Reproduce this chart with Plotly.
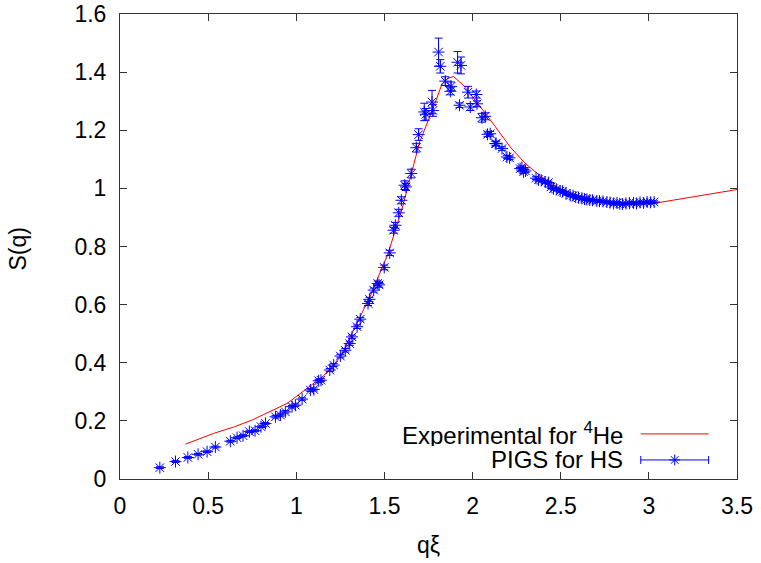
import plotly.graph_objects as go

# Experimental S(q) for 4He (red line)
exp_q = [0.371, 0.45, 0.532, 0.65, 0.75, 0.815, 0.948, 1.061, 1.155, 1.25, 1.344, 1.42,
         1.496, 1.515, 1.6, 1.647, 1.70, 1.779, 1.827, 1.855, 1.892, 1.949, 2.0, 2.082,
         2.214, 2.30, 2.40, 2.5, 2.6, 2.7, 2.8, 2.9, 3.0, 3.054, 3.5]
exp_s = [0.120, 0.138, 0.157, 0.180, 0.203, 0.222, 0.260, 0.312, 0.355, 0.420, 0.535, 0.630,
         0.741, 0.765, 0.93, 1.039, 1.16, 1.280, 1.360, 1.377, 1.385, 1.354, 1.315, 1.251,
         1.142, 1.085, 1.035, 0.998, 0.974, 0.960, 0.951, 0.947, 0.948, 0.951, 0.996]

# PIGS for hard spheres (blue points with error bars)
pigs_q = [0.226, 0.315, 0.385, 0.443, 0.494, 0.541, 0.626, 0.664, 0.698, 0.734, 0.766, 0.800,
          0.825, 0.882, 0.910, 0.938, 0.976, 0.995, 1.033, 1.080, 1.099, 1.127, 1.140, 1.190,
          1.212, 1.250, 1.278, 1.303, 1.316, 1.345, 1.363, 1.407, 1.415, 1.439, 1.462, 1.470,
          1.499, 1.530, 1.552, 1.562, 1.581, 1.596, 1.615, 1.622, 1.652, 1.681, 1.694, 1.726,
          1.735, 1.770, 1.775, 1.807, 1.817, 1.845, 1.874, 1.878, 1.915, 1.934, 1.926, 1.974,
          1.987, 2.021, 2.025, 2.053, 2.072, 2.085, 2.100, 2.129, 2.134, 2.167, 2.195, 2.210,
          2.270, 2.280, 2.289, 2.300, 2.360, 2.374, 2.390, 2.412, 2.430, 2.445, 2.459, 2.475,
          2.497, 2.510, 2.530, 2.554, 2.570, 2.585, 2.601, 2.620, 2.635, 2.648, 2.665, 2.680,
          2.705, 2.720, 2.740, 2.762, 2.780, 2.800, 2.819, 2.835, 2.850, 2.870, 2.890, 2.913,
          2.930, 2.950, 2.970, 2.990, 3.010, 3.030]
pigs_s = [0.039, 0.060, 0.074, 0.085, 0.094, 0.110, 0.130, 0.142, 0.149, 0.163, 0.166, 0.180,
          0.191, 0.214, 0.220, 0.231, 0.249, 0.254, 0.275, 0.306, 0.308, 0.338, 0.340, 0.375,
          0.392, 0.423, 0.443, 0.466, 0.489, 0.524, 0.550, 0.604, 0.618, 0.650, 0.673, 0.668,
          0.728, 0.778, 0.856, 0.873, 0.916, 0.959, 1.011, 1.005, 1.051, 1.140, 1.185, 1.263,
          1.255, 1.297, 1.268, 1.469, 1.420, 1.369, 1.334, 1.351, 1.434, 1.423, 1.286, 1.331,
          1.280, 1.323, 1.291, 1.243, 1.248, 1.186, 1.188, 1.154, 1.154, 1.137, 1.108, 1.105,
          1.068, 1.072, 1.057, 1.060, 1.035, 1.030, 1.028, 1.022, 1.020, 1.005, 0.999, 0.997,
          0.991, 0.990, 0.983, 0.976, 0.975, 0.970, 0.968, 0.966, 0.963, 0.962, 0.960, 0.959,
          0.957, 0.956, 0.955, 0.953, 0.951, 0.948, 0.950, 0.947, 0.946, 0.948, 0.949, 0.950,
          0.948, 0.952, 0.950, 0.953, 0.952, 0.953]
pigs_err = [0.003, 0.003, 0.003, 0.003, 0.003, 0.003, 0.003, 0.003, 0.003, 0.003, 0.003, 0.003,
            0.003, 0.004, 0.004, 0.004, 0.004, 0.004, 0.004, 0.005, 0.005, 0.005, 0.005, 0.005,
            0.005, 0.006, 0.006, 0.006, 0.006, 0.006, 0.006, 0.007, 0.007, 0.007, 0.008, 0.008,
            0.008, 0.009, 0.010, 0.010, 0.012, 0.012, 0.015, 0.012, 0.015, 0.015, 0.020, 0.030,
            0.020, 0.040, 0.020, 0.048, 0.023, 0.015, 0.012, 0.015, 0.037, 0.029, 0.008, 0.020,
            0.012, 0.012, 0.010, 0.015, 0.012, 0.008, 0.008, 0.008, 0.006, 0.006, 0.006, 0.006,
            0.005, 0.005, 0.005, 0.005, 0.005, 0.005, 0.005, 0.005, 0.005, 0.004, 0.004, 0.004,
            0.004, 0.004, 0.004, 0.004, 0.004, 0.004, 0.004, 0.004, 0.004, 0.004, 0.004, 0.004,
            0.004, 0.004, 0.004, 0.004, 0.004, 0.004, 0.004, 0.004, 0.004, 0.004, 0.004, 0.004,
            0.004, 0.004, 0.004, 0.004, 0.004, 0.004]

x_ticks = [0, 0.5, 1, 1.5, 2, 2.5, 3, 3.5]
y_ticks = [0, 0.2, 0.4, 0.6, 0.8, 1, 1.2, 1.4, 1.6]

x_title = "qξ"
y_title = "S(q)"
legend_labels = ["Experimental for <sup>4</sup>He", "PIGS for HS"]

RED = "#ff0000"
BLUE = "#0000ff"
FONT = "Liberation Sans, Arial, sans-serif"
FS = 23
FS_LEG = 24

fig = go.Figure()
fig.add_trace(go.Scatter(x=exp_q, y=exp_s, mode="lines",
                         line=dict(color=RED, width=1), showlegend=False))
fig.add_trace(go.Scatter(x=pigs_q, y=pigs_s, mode="markers",
                         marker=dict(symbol="asterisk-open", size=10, color=BLUE,
                                     line=dict(color="rgba(0,0,255,0.85)", width=1)),
                         error_y=dict(type="data", array=pigs_err, color=BLUE,
                                      thickness=1, width=4),
                         showlegend=False))

# manual legend (text left of sample, as in the reference)
leg_y = [0.097, 0.041]
fig.add_trace(go.Scatter(x=[0.844, 0.954], y=[leg_y[0], leg_y[0]], mode="lines",
                         line=dict(color=RED, width=1), xaxis="x2", yaxis="y2",
                         showlegend=False, hoverinfo="skip"))
fig.add_trace(go.Scatter(x=[0.899], y=[leg_y[1]], mode="markers",
                         marker=dict(symbol="asterisk-open", size=9, color=BLUE,
                                     line=dict(color=BLUE, width=1)),
                         error_x=dict(type="constant", value=0.055, color=BLUE,
                                      thickness=1, width=4),
                         xaxis="x2", yaxis="y2", showlegend=False, hoverinfo="skip"))
for lab, yy in zip(legend_labels, leg_y):
    fig.add_annotation(text=lab, x=0.818, y=yy, xref="paper", yref="paper",
                       xanchor="right", yanchor="middle", showarrow=False,
                       height=25, valign="middle",
                       font=dict(family=FONT, size=FS_LEG, color="black"))

# axis titles as annotations (positioned like the reference)
fig.add_annotation(text=x_title, x=0.5, y=0, xref="paper", yref="paper",
                   xanchor="center", yanchor="middle", yshift=-66, showarrow=False,
                   font=dict(family=FONT, size=FS, color="black"))
fig.add_annotation(text=y_title, x=0, y=0.5, xref="paper", yref="paper",
                   xanchor="center", yanchor="middle", xshift=-103, yshift=-3,
                   textangle=-90, showarrow=False,
                   font=dict(family=FONT, size=FS, color="black"))

axis_common = dict(showgrid=False, zeroline=False, showline=True, linecolor="#333333",
                   linewidth=1, mirror="ticks", ticks="inside", ticklen=7,
                   tickcolor="#333333", tickwidth=1, automargin=False,
                   tickfont=dict(family=FONT, size=FS, color="black"))

fig.update_layout(
    width=761, height=563,
    margin=dict(l=120, r=24, t=14, b=84, autoexpand=False),
    paper_bgcolor="white", plot_bgcolor="white",
    font=dict(family=FONT, size=FS, color="black"),
    xaxis=dict(range=[0, 3.5], tickvals=x_ticks, ticktext=[f"{v:g}" for v in x_ticks],
               ticklabelstandoff=6, **axis_common),
    yaxis=dict(range=[0, 1.6], tickvals=y_ticks, ticktext=[f"{v:g}" for v in y_ticks],
               ticklabelstandoff=8, **axis_common),
    xaxis2=dict(range=[0, 1], overlaying="x", visible=False),
    yaxis2=dict(range=[0, 1], overlaying="y", visible=False),
)

fig.write_html("out.html", config={"displayModeBar": False},
               post_script="document.body.style.margin='0';document.body.style.overflow='hidden';")
